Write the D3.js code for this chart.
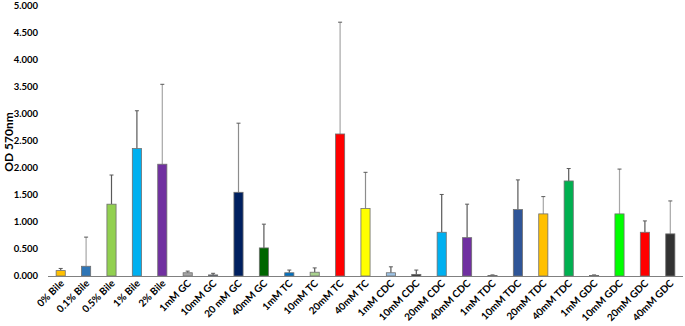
<!DOCTYPE html>
<html>
<head>
<meta charset="utf-8">
<script src="https://cdn.jsdelivr.net/npm/d3@7"></script>
<style>
  body { margin: 0; background: #fff; }
  svg { display: block; font-family: Lato, "Open Sans", sans-serif; }
</style>
</head>
<body>
<svg id="chart" width="685" height="326"></svg>
<script>
const categories = ["0% Bile", "0.1% Bile", "0.5% Bile", "1% Bile", "2% Bile",
  "1mM GC", "10mM GC", "20 mM GC", "40mM GC",
  "1mM TC", "10mM TC", "20mM TC", "40mM TC",
  "1mM CDC", "10mM CDC", "20mM CDC", "40mM CDC",
  "1mM TDC", "10mM TDC", "20mM TDC", "40mM TDC",
  "1mM GDC", "10mM GDC", "20mM GDC", "40mM GDC"];
const means = [0.10, 0.18, 1.33, 2.36, 2.07,
  0.06, 0.02, 1.55, 0.52,
  0.06, 0.07, 2.63, 1.25,
  0.06, 0.03, 0.81, 0.71,
  0.01, 1.23, 1.15, 1.76,
  0.01, 1.15, 0.81, 0.78];
const errTops = [0.14, 0.72, 1.87, 3.06, 3.55,
  0.09, 0.05, 2.83, 0.96,
  0.11, 0.15, 4.70, 1.92,
  0.17, 0.11, 1.51, 1.33,
  0.02, 1.78, 1.47, 1.99,
  0.02, 1.98, 1.02, 1.39];
const barColors = ["#FFC000", "#2E75B6", "#92D050", "#00B0F0", "#7030A0",
  "#A5A5A5", "#44546A", "#002060", "#006600",
  "#0070C0", "#A9D18E", "#FF0000", "#FFFF00",
  "#9DC3E6", "#262626", "#00B0F0", "#7030A0",
  "#7F7F7F", "#2F5597", "#FFC000", "#00B050",
  "#7F7F7F", "#00FF00", "#FF0000", "#333333"];
const errColors = ["#595959", "#A6A6A6", "#595959", "#595959", "#A6A6A6",
  "#595959", "#595959", "#8C8C8C", "#595959",
  "#595959", "#595959", "#A6A6A6", "#8C8C8C",
  "#595959", "#595959", "#595959", "#595959",
  "#595959", "#595959", "#A6A6A6", "#595959",
  "#595959", "#A6A6A6", "#595959", "#A6A6A6"];
const yTicks = [0, 0.5, 1, 1.5, 2, 2.5, 3, 3.5, 4, 4.5, 5];

const svg = d3.select("#chart");
const margin = { left: 48, right: 2, top: 6, bottom: 50 };
const width = 685, height = 326;

const x = d3.scaleBand()
  .domain(categories)
  .range([margin.left, width - margin.right])
  .paddingInner(0.64)
  .paddingOuter(0.32);

const y = d3.scaleLinear()
  .domain([0, 5])
  .range([height - margin.bottom, margin.top]);

const data = categories.map((c, i) => ({ cat: c, v: means[i], top: errTops[i], color: barColors[i], ec: errColors[i] }));

// y tick labels (no axis line)
svg.append("g").selectAll("text")
  .data(yTicks)
  .join("text")
  .attr("x", 38)
  .attr("y", d => y(d))
  .attr("dy", "0.35em")
  .attr("text-anchor", "end")
  .attr("font-size", 9.5)
  .attr("font-weight", "bold")
  .attr("fill", "#000")
  .text(d => d3.format(".3f")(d));

// axis title, baseline on the right side of the rotated text
svg.append("text")
  .attr("transform", `translate(12.5, ${ 142 }) rotate(-90)`)
  .attr("text-anchor", "middle")
  .attr("font-size", 12)
  .attr("font-weight", "bold")
  .text("OD 570nm");

// error bars
const eb = svg.append("g").selectAll("g")
  .data(data)
  .join("g");
eb.append("line")
  .attr("x1", d => x(d.cat) + x.bandwidth() / 2)
  .attr("x2", d => x(d.cat) + x.bandwidth() / 2)
  .attr("y1", d => y(d.v))
  .attr("y2", d => y(d.top))
  .attr("stroke", d => d.ec)
  .attr("stroke-width", 1.2);
eb.append("line")
  .attr("x1", d => x(d.cat) + x.bandwidth() / 2 - 2)
  .attr("x2", d => x(d.cat) + x.bandwidth() / 2 + 2)
  .attr("y1", d => y(d.top))
  .attr("y2", d => y(d.top))
  .attr("stroke", "#595959")
  .attr("stroke-width", 1);

// bars
svg.append("g").selectAll("rect")
  .data(data)
  .join("rect")
  .attr("x", d => x(d.cat))
  .attr("y", d => y(d.v))
  .attr("width", x.bandwidth())
  .attr("height", d => y(0) - y(d.v))
  .attr("fill", d => d.color)
  .attr("stroke", "#6f6f6f")
  .attr("stroke-width", 0.8);

// x axis line
svg.append("line")
  .attr("x1", margin.left)
  .attr("x2", width - margin.right)
  .attr("y1", y(0) + 0.5)
  .attr("y2", y(0) + 0.5)
  .attr("stroke", "#808080")
  .attr("stroke-width", 1.2);

// category labels
svg.append("g").selectAll("text")
  .data(categories)
  .join("text")
  .attr("transform", d => `translate(${ x(d) + x.bandwidth() / 2 + 4 }, ${ y(0) + 8 }) rotate(-45)`)
  .attr("text-anchor", "end")
  .attr("font-size", 10)
  .attr("font-weight", "bold")
  .attr("fill", "#000")
  .text(d => d);
</script>
</body>
</html>
